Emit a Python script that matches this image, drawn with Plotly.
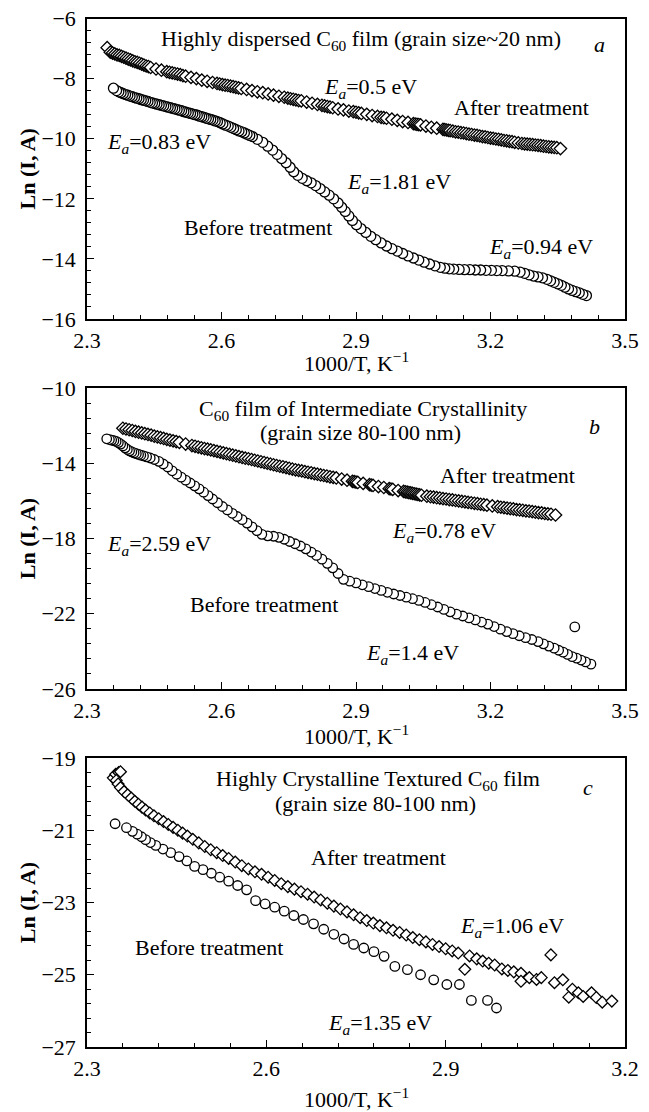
import plotly.graph_objects as go

FONT = "Liberation Serif"

# ---------------- Panel a : highly dispersed film ----------------
a_after_x = [2.345, 2.352, 2.357, 2.362, 2.367, 2.372, 2.377, 2.382, 2.387, 2.392, 2.397, 2.402, 2.407, 2.412, 2.417, 2.422, 2.427, 2.432, 2.437, 2.442,
             2.454, 2.466, 2.478, 2.484, 2.490, 2.496, 2.502, 2.508, 2.514, 2.520,
             2.532, 2.544, 2.556, 2.568, 2.580, 2.590, 2.596, 2.602, 2.608, 2.614, 2.620, 2.626, 2.632, 2.638, 2.644,
             2.656, 2.668, 2.680, 2.692, 2.704, 2.716, 2.728, 2.740, 2.748, 2.754, 2.760, 2.766, 2.772, 2.778,
             2.790, 2.802, 2.814, 2.824, 2.830, 2.836, 2.842, 2.848, 2.860, 2.872, 2.884, 2.894, 2.900, 2.906, 2.912,
             2.924, 2.936, 2.948, 2.956, 2.962, 2.968, 2.980, 2.992, 3.004, 3.016, 3.028, 3.032, 3.036, 3.040, 3.044,
             3.056, 3.068, 3.080, 3.094, 3.098, 3.102, 3.106, 3.110,
             3.116, 3.122, 3.128, 3.134, 3.140, 3.146, 3.152, 3.158, 3.164, 3.170, 3.176, 3.182, 3.188, 3.194, 3.200, 3.206, 3.212, 3.218, 3.224, 3.230, 3.236, 3.242, 3.248, 3.254, 3.262,
             3.270, 3.276, 3.282, 3.288, 3.294, 3.300, 3.306, 3.312, 3.318, 3.324, 3.330, 3.336, 3.342, 3.348, 3.356]
a_after_y = [-6.97, -7.12, -7.15, -7.18, -7.21, -7.23, -7.26, -7.29, -7.32, -7.35, -7.38, -7.41, -7.44, -7.46, -7.49, -7.52, -7.55, -7.58, -7.60, -7.63,
             -7.68, -7.72, -7.77, -7.79, -7.81, -7.83, -7.85, -7.87, -7.90, -7.92,
             -7.96, -8.00, -8.05, -8.09, -8.13, -8.16, -8.18, -8.20, -8.22, -8.23, -8.25, -8.27, -8.29, -8.31, -8.33,
             -8.36, -8.40, -8.44, -8.47, -8.51, -8.55, -8.59, -8.62, -8.65, -8.67, -8.69, -8.71, -8.73, -8.74,
             -8.78, -8.82, -8.86, -8.89, -8.91, -8.93, -8.95, -8.97, -9.01, -9.04, -9.08, -9.10, -9.12, -9.14, -9.16,
             -9.19, -9.23, -9.26, -9.29, -9.30, -9.32, -9.35, -9.39, -9.43, -9.46, -9.50, -9.51, -9.52, -9.53, -9.54,
             -9.58, -9.62, -9.65, -9.69, -9.70, -9.71, -9.72, -9.73,
             -9.75, -9.77, -9.78, -9.80, -9.81, -9.83, -9.85, -9.86, -9.88, -9.89, -9.91, -9.93, -9.94, -9.96, -9.98, -9.99, -10.01, -10.02, -10.04, -10.06, -10.07, -10.09, -10.10, -10.12, -10.14,
             -10.16, -10.17, -10.18, -10.19, -10.20, -10.21, -10.22, -10.23, -10.25, -10.26, -10.27, -10.28, -10.29, -10.30, -10.33]

a_before_x = [2.359, 2.366, 2.371, 2.376, 2.381, 2.386, 2.391, 2.396, 2.401, 2.406, 2.411, 2.416, 2.421, 2.426, 2.431, 2.436, 2.441, 2.446, 2.451, 2.456, 2.461,
              2.466, 2.471, 2.476, 2.481, 2.486, 2.491, 2.496, 2.501, 2.506, 2.511, 2.516, 2.521, 2.526, 2.531, 2.536, 2.541, 2.546, 2.551, 2.556, 2.561, 2.566, 2.571, 2.576, 2.581, 2.586, 2.591,
              2.597, 2.603, 2.609, 2.615, 2.621, 2.627, 2.633, 2.639, 2.645, 2.651, 2.657, 2.663, 2.669,
              2.680, 2.692, 2.703, 2.714, 2.724, 2.734, 2.744, 2.753, 2.761, 2.770, 2.780, 2.790, 2.800, 2.810, 2.820, 2.830, 2.840, 2.850, 2.860, 2.868,
              2.876, 2.884, 2.892, 2.901, 2.911, 2.922, 2.933, 2.944, 2.956, 2.968, 2.980, 2.992, 3.004, 3.016, 3.028, 3.040, 3.052, 3.064, 3.076, 3.088,
              3.098, 3.108, 3.118, 3.130, 3.142, 3.154, 3.166, 3.178, 3.190, 3.202, 3.214, 3.226, 3.240, 3.254, 3.266, 3.276, 3.286, 3.296, 3.306, 3.316,
              3.326, 3.334, 3.342, 3.350, 3.358, 3.366, 3.374, 3.382, 3.390, 3.398, 3.406, 3.414]
a_before_y = [-8.32, -8.40, -8.44, -8.47, -8.50, -8.53, -8.55, -8.58, -8.60, -8.63, -8.65, -8.67, -8.70, -8.72, -8.74, -8.76, -8.79, -8.81, -8.83, -8.85, -8.87,
              -8.89, -8.91, -8.93, -8.95, -8.97, -8.99, -9.01, -9.03, -9.05, -9.07, -9.10, -9.12, -9.14, -9.16, -9.18, -9.20, -9.22, -9.25, -9.27, -9.29, -9.32, -9.34, -9.36, -9.38, -9.41, -9.43,
              -9.47, -9.51, -9.55, -9.58, -9.62, -9.66, -9.70, -9.74, -9.77, -9.81, -9.85, -9.89, -9.93,
              -10.02, -10.12, -10.25, -10.38, -10.52, -10.66, -10.80, -10.95, -11.10, -11.22, -11.32, -11.40, -11.47, -11.56, -11.66, -11.77, -11.88, -12.00, -12.14, -12.28,
              -12.42, -12.57, -12.72, -12.86, -12.99, -13.12, -13.25, -13.36, -13.47, -13.57, -13.66, -13.74, -13.82, -13.90, -13.97, -14.04, -14.11, -14.17, -14.23, -14.28,
              -14.31, -14.33, -14.34, -14.35, -14.36, -14.36, -14.37, -14.37, -14.38, -14.38, -14.39, -14.39, -14.40, -14.41, -14.44, -14.48, -14.53, -14.57, -14.60, -14.63,
              -14.68, -14.73, -14.78, -14.83, -14.88, -14.94, -15.00, -15.05, -15.09, -15.13, -15.18, -15.22]

# ---------------- Panel b : intermediate crystallinity ----------------
b_after_x = [2.380, 2.387, 2.394, 2.401, 2.408, 2.415, 2.422, 2.429, 2.436, 2.443, 2.450, 2.457, 2.464, 2.471, 2.478, 2.485, 2.492, 2.499, 2.506, 2.520,
             2.534, 2.541, 2.548, 2.555, 2.562, 2.569, 2.576, 2.583, 2.590, 2.597, 2.604, 2.611, 2.618, 2.625, 2.632, 2.639, 2.646, 2.653, 2.660, 2.667,
             2.674, 2.681, 2.688, 2.695, 2.702, 2.709, 2.716, 2.723, 2.730, 2.737, 2.744, 2.751, 2.758, 2.765, 2.772, 2.779, 2.786, 2.793, 2.800, 2.807,
             2.814, 2.821, 2.828, 2.835, 2.842, 2.849, 2.856, 2.868, 2.880, 2.892, 2.896, 2.900, 2.904, 2.916, 2.930, 2.934, 2.938, 2.950, 2.962, 2.974,
             2.978, 2.982, 2.994, 3.006, 3.010, 3.014, 3.018, 3.022, 3.026, 3.030, 3.034, 3.038, 3.042, 3.046, 3.058, 3.066, 3.073, 3.080, 3.087, 3.094,
             3.101, 3.108, 3.115, 3.122, 3.129, 3.136, 3.143, 3.150, 3.157, 3.164, 3.171, 3.178, 3.185, 3.192, 3.204, 3.216, 3.223, 3.230, 3.237, 3.244,
             3.251, 3.258, 3.265, 3.272, 3.279, 3.286, 3.293, 3.300, 3.307, 3.314, 3.321, 3.328, 3.335, 3.345]
b_after_y = [-12.14, -12.18, -12.22, -12.26, -12.31, -12.35, -12.39, -12.43, -12.47, -12.51, -12.56, -12.60, -12.64, -12.68, -12.73, -12.77, -12.81, -12.85, -12.89, -12.98,
             -13.06, -13.10, -13.14, -13.18, -13.22, -13.25, -13.29, -13.33, -13.37, -13.41, -13.45, -13.49, -13.53, -13.57, -13.61, -13.65, -13.69, -13.73, -13.76, -13.80,
             -13.84, -13.88, -13.92, -13.96, -14.00, -14.04, -14.08, -14.12, -14.16, -14.19, -14.23, -14.27, -14.31, -14.35, -14.38, -14.41, -14.45, -14.48, -14.51, -14.55,
             -14.58, -14.62, -14.65, -14.68, -14.72, -14.75, -14.78, -14.84, -14.90, -14.96, -14.98, -15.00, -15.02, -15.07, -15.14, -15.16, -15.18, -15.24, -15.29, -15.35,
             -15.37, -15.39, -15.45, -15.50, -15.52, -15.54, -15.56, -15.58, -15.60, -15.62, -15.64, -15.66, -15.68, -15.70, -15.75, -15.78, -15.80, -15.83, -15.85, -15.88,
             -15.90, -15.93, -15.95, -15.98, -16.00, -16.03, -16.05, -16.08, -16.10, -16.13, -16.15, -16.18, -16.20, -16.23, -16.27, -16.31, -16.34, -16.36, -16.39, -16.41,
             -16.43, -16.46, -16.48, -16.50, -16.53, -16.55, -16.57, -16.60, -16.62, -16.64, -16.67, -16.69, -16.71, -16.75]

b_before_x = [2.344, 2.350, 2.355, 2.360, 2.365, 2.370, 2.375, 2.380, 2.385, 2.390, 2.395, 2.400, 2.405, 2.410, 2.415, 2.420, 2.426, 2.433, 2.441, 2.450,
              2.460, 2.470, 2.480, 2.490, 2.500, 2.510, 2.520, 2.530, 2.540, 2.550, 2.560, 2.570, 2.580, 2.591, 2.602, 2.613, 2.624, 2.635, 2.646, 2.657,
              2.668, 2.679, 2.690, 2.703, 2.716, 2.728, 2.740, 2.752, 2.764, 2.776, 2.788, 2.800, 2.812, 2.824, 2.836, 2.848, 2.860, 2.872, 2.886, 2.900,
              2.914, 2.928, 2.942, 2.956, 2.970, 2.984, 2.998, 3.012, 3.026, 3.040, 3.054, 3.068, 3.082, 3.096, 3.110, 3.124, 3.138, 3.152, 3.166, 3.180,
              3.194, 3.208, 3.222, 3.236, 3.250, 3.264, 3.278, 3.292, 3.306, 3.318, 3.330, 3.342, 3.352, 3.362, 3.372, 3.382, 3.388, 3.392, 3.402, 3.412,
              3.424]
b_before_y = [-12.70, -12.74, -12.77, -12.80, -12.84, -12.90, -12.98, -13.08, -13.18, -13.27, -13.34, -13.40, -13.45, -13.49, -13.53, -13.57, -13.61, -13.66, -13.72, -13.80,
              -13.90, -14.04, -14.20, -14.40, -14.58, -14.74, -14.90, -15.05, -15.20, -15.36, -15.54, -15.72, -15.90, -16.10, -16.30, -16.48, -16.66, -16.83, -17.00, -17.18,
              -17.38, -17.58, -17.78, -17.86, -17.88, -17.94, -18.04, -18.16, -18.28, -18.40, -18.55, -18.72, -18.90, -19.10, -19.32, -19.56, -19.86, -20.17, -20.27, -20.36,
              -20.46, -20.56, -20.66, -20.76, -20.86, -20.95, -21.03, -21.12, -21.20, -21.29, -21.40, -21.52, -21.64, -21.77, -21.90, -22.02, -22.12, -22.22, -22.33, -22.44,
              -22.55, -22.68, -22.82, -22.95, -23.06, -23.17, -23.27, -23.37, -23.48, -23.60, -23.72, -23.83, -23.94, -24.04, -24.16, -24.28, -22.70, -24.36, -24.46, -24.56,
              -24.68]

# ---------------- Panel c : highly crystalline textured film ----------------
c_after_x = [2.344, 2.348, 2.353, 2.356, 2.349, 2.352, 2.356, 2.362, 2.368, 2.374, 2.380, 2.386, 2.392, 2.398, 2.405, 2.412, 2.420, 2.428, 2.436, 2.444,
             2.452, 2.460, 2.468, 2.477, 2.487, 2.497, 2.507, 2.517, 2.527, 2.537, 2.548, 2.559, 2.570, 2.581, 2.592, 2.603, 2.614, 2.625, 2.636, 2.647,
             2.658, 2.669, 2.680, 2.691, 2.702, 2.713, 2.724, 2.735, 2.746, 2.757, 2.768, 2.779, 2.790, 2.801, 2.812, 2.823, 2.834, 2.845, 2.856, 2.867,
             2.878, 2.889, 2.900, 2.911, 2.921, 2.932, 2.940, 2.952, 2.962, 2.972, 2.982, 2.994, 3.004, 3.014, 3.026, 3.026, 3.040, 3.052, 3.060, 3.076,
             3.082, 3.096, 3.106, 3.112, 3.122, 3.130, 3.144, 3.152, 3.162, 3.178]
c_after_y = [-19.55, -19.45, -19.40, -19.38, -19.62, -19.72, -19.82, -19.93, -20.02, -20.11, -20.20, -20.28, -20.36, -20.44, -20.52, -20.60, -20.68, -20.76, -20.84, -20.92,
             -21.00, -21.08, -21.16, -21.25, -21.35, -21.45, -21.54, -21.62, -21.70, -21.78, -21.88, -21.98, -22.07, -22.15, -22.22, -22.30, -22.39, -22.48, -22.56, -22.63,
             -22.70, -22.77, -22.85, -22.93, -23.02, -23.10, -23.18, -23.26, -23.34, -23.42, -23.50, -23.57, -23.64, -23.70, -23.77, -23.83, -23.90, -23.97, -24.03, -24.09,
             -24.16, -24.22, -24.28, -24.34, -24.40, -24.85, -24.48, -24.56, -24.62, -24.68, -24.73, -24.84, -24.88, -24.92, -24.96, -25.18, -25.08, -25.13, -25.08, -24.45,
             -25.22, -25.14, -25.62, -25.40, -25.50, -25.60, -25.50, -25.63, -25.76, -25.73]

c_before_x = [2.347, 2.366, 2.376, 2.384, 2.391, 2.398, 2.406, 2.415, 2.427, 2.440, 2.454, 2.467, 2.480, 2.494, 2.508, 2.522, 2.537, 2.552, 2.567, 2.582,
              2.598, 2.614, 2.630, 2.646, 2.662, 2.679, 2.696, 2.713, 2.730, 2.746, 2.763, 2.780, 2.797, 2.815, 2.836, 2.858, 2.880, 2.902, 2.923, 2.943,
              2.970, 2.985]
c_before_y = [-20.82, -20.93, -21.03, -21.11, -21.18, -21.26, -21.34, -21.42, -21.52, -21.62, -21.73, -21.85, -22.00, -22.09, -22.19, -22.30, -22.41, -22.53, -22.65, -22.95,
              -23.04, -23.13, -23.24, -23.36, -23.47, -23.59, -23.74, -23.88, -24.01, -24.16, -24.26, -24.36, -24.49, -24.77, -24.86, -25.00, -25.14, -25.27, -25.27, -25.71,
              -25.71, -25.92]

# axis settings per panel
x_ranges = [[2.3, 3.5], [2.3, 3.5], [2.3, 3.2]]
y_ranges = [[-16, -6], [-26, -10], [-27, -19]]
y_dticks = [2, 4, 2]
y_minor = [0.4, 0.8, 0.4]
x_major = 0.3
x_minor = 0.06

W, H = 649, 1112
x_dom = [87 / W, 625 / W]
y_doms = [[1 - 319 / H, 1 - 18.5 / H], [1 - 689 / H, 1 - 388 / H], [1 - 1047 / H, 1 - 758 / H]]
x_title_px = [362, 735, 1098]

fig = go.Figure()


def add_series(xv, yv, symbol, size, ax, reverse=False):
    if reverse:
        xv, yv = xv[::-1], yv[::-1]
    fig.add_trace(go.Scatter(
        x=xv, y=yv, mode="markers", showlegend=False, hoverinfo="skip",
        xaxis="x" + ax, yaxis="y" + ax,
        marker=dict(symbol=symbol, size=size, color="white",
                    line=dict(color="black", width=1.3))))


add_series(a_after_x, a_after_y, "diamond", 9.5, "")
add_series(a_before_x, a_before_y, "circle", 10, "", reverse=True)
add_series(b_after_x, b_after_y, "diamond", 9.5, "2")
add_series(b_before_x, b_before_y, "circle", 9.5, "2", reverse=True)
add_series(c_after_x, c_after_y, "diamond", 9, "3")
add_series(c_before_x, c_before_y, "circle", 9.5, "3", reverse=True)

TS = 22
tickfont = dict(family=FONT, size=TS, color="black")
layout = dict(width=W, height=H, margin=dict(l=0, r=0, t=0, b=0, autoexpand=False),
              template="none",
              paper_bgcolor="white", plot_bgcolor="white", showlegend=False,
              font=dict(family=FONT, size=TS, color="black"))

for i in range(3):
    s = "" if i == 0 else str(i + 1)
    layout["xaxis" + s] = dict(
        domain=x_dom, range=x_ranges[i], anchor="y" + s, automargin=False,
        tick0=2.3, dtick=x_major, tickformat=".1f",
        showline=True, linecolor="black", linewidth=1.6, mirror=True,
        ticks="inside", ticklen=7, tickwidth=1.3, tickcolor="black",
        ticklabelstandoff=1,
        minor=dict(ticks="inside", ticklen=4, tickwidth=1.1, tickcolor="black",
                   tick0=2.3, dtick=x_minor, showgrid=False),
        showgrid=False, zeroline=False, tickfont=tickfont)
    layout["yaxis" + s] = dict(
        domain=y_doms[i], range=y_ranges[i], anchor="x" + s, automargin=False,
        tick0=y_ranges[i][0], dtick=y_dticks[i],
        showline=True, linecolor="black", linewidth=1.6, mirror=True,
        ticks="inside", ticklen=7, tickwidth=1.3, tickcolor="black",
        ticklabelstandoff=5,
        minor=dict(ticks="inside", ticklen=4, tickwidth=1.1, tickcolor="black",
                   tick0=y_ranges[i][0], dtick=y_minor[i], showgrid=False),
        showgrid=False, zeroline=False, tickfont=tickfont,
        title=dict(text="<b>Ln (I, A)</b>", font=dict(family=FONT, size=TS), standoff=0))

fig.update_layout(**layout)

# x-axis titles
for py in x_title_px:
    fig.add_annotation(x=(x_dom[0] + x_dom[1]) / 2, y=1 - py / H, xref="paper", yref="paper",
                       text="1000/T, K<sup>\u22121</sup>", showarrow=False,
                       xanchor="center", yanchor="middle",
                       font=dict(family=FONT, size=TS, color="black"))

EA = "<i>E<sub>a</sub></i>"
labels = [
    ("", 2.911, -6.72, "Highly dispersed C<sub>60</sub> film (grain size~20 nm)"),
    ("", 3.444, -6.88, "<i>a</i>"),
    ("", 2.933, -8.31, EA + "=0.5 eV"),
    ("", 3.270, -8.95, "After treatment"),
    ("", 2.461, -10.14, EA + "=0.83 eV"),
    ("", 2.996, -11.47, EA + "=1.81 eV"),
    ("", 2.681, -12.94, "Before treatment"),
    ("", 3.313, -13.64, EA + "=0.94 eV"),
    ("2", 2.916, -11.16, "C<sub>60</sub> film of Intermediate Crystallinity"),
    ("2", 2.909, -12.37, "(grain size 80-100 nm)"),
    ("2", 3.431, -12.05, "<i>b</i>"),
    ("2", 3.239, -14.63, "After treatment"),
    ("2", 3.096, -17.63, EA + "=0.78 eV"),
    ("2", 2.461, -18.37, EA + "=2.59 eV"),
    ("2", 2.695, -21.53, "Before treatment"),
    ("2", 3.027, -24.16, EA + "=1.4 eV"),
    ("3", 2.787, -19.61, "Highly Crystalline Textured C<sub>60</sub> film"),
    ("3", 2.783, -20.25, "(grain size 80-100 nm)"),
    ("3", 3.138, -19.83, "<i>c</i>"),
    ("3", 2.787, -21.75, "After treatment"),
    ("3", 3.011, -23.69, EA + "=1.06 eV"),
    ("3", 2.504, -24.25, "Before treatment"),
    ("3", 2.790, -26.36, EA + "=1.35 eV"),
]
for ax, x, y, t in labels:
    fig.add_annotation(x=x, y=y, xref="x" + ax, yref="y" + ax, text=t, showarrow=False,
                       xanchor="center", yanchor="middle",
                       font=dict(family=FONT, size=TS, color="black"))

# remove the default 8px page margin so the figure fills the window exactly
fig.write_html("out.html", config={"displayModeBar": False},
               post_script="document.body.style.margin='0px';")
